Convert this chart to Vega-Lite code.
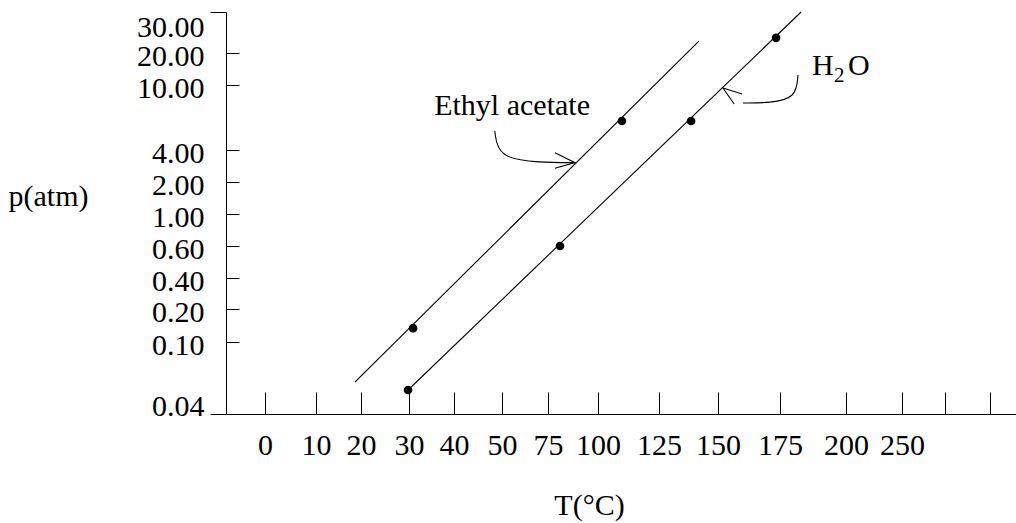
{
  "$schema": "https://vega.github.io/schema/vega-lite/v6.json",
  "width": 790,
  "height": 402,
  "autosize": {"type": "none"},
  "padding": {"left": 226, "top": 12, "right": 0, "bottom": 109},
  "background": "white",
  "config": {
    "view": {"stroke": null},
    "font": "Liberation Serif",
    "axis": {
      "grid": false,
      "domainColor": "black",
      "domainWidth": 1,
      "tickColor": "black",
      "tickWidth": 1,
      "labelColor": "black",
      "labelFont": "Liberation Serif",
      "labelFontSize": 30,
      "titleColor": "black",
      "titleFont": "Liberation Serif",
      "titleFontSize": 30,
      "titleFontWeight": "normal"
    }
  },
  "data": {
    "values": [
      {"kind": "line", "series": "Ethyl acetate", "ord": 1, "T": 18.7, "p": 0.0667},
      {"kind": "line", "series": "Ethyl acetate", "ord": 2, "T": 141.9, "p": 22.9},
      {"kind": "line", "series": "H2O", "ord": 1, "T": 29.8, "p": 0.06},
      {"kind": "line", "series": "H2O", "ord": 2, "T": 183, "p": 30},
      {"kind": "dot", "series": "Ethyl acetate", "T": 30.9, "p": 0.142},
      {"kind": "dot", "series": "Ethyl acetate", "T": 109.8, "p": 6.68},
      {"kind": "dot", "series": "H2O", "T": 29.8, "p": 0.06},
      {"kind": "dot", "series": "H2O", "T": 81, "p": 0.6},
      {"kind": "dot", "series": "H2O", "T": 138.6, "p": 6.68},
      {"kind": "dot", "series": "H2O", "T": 173.4, "p": 23.7},
      {"kind": "curve", "series": "ethyl-arrow", "ord": 1, "T": 48.5, "p": 5.75},
      {"kind": "curve", "series": "ethyl-arrow", "ord": 2, "T": 49.2, "p": 3.5},
      {"kind": "curve", "series": "ethyl-arrow", "ord": 3, "T": 70.5, "p": 3.21},
      {"kind": "curve", "series": "ethyl-arrow", "ord": 4, "T": 88.5, "p": 3.21},
      {"kind": "curve", "series": "h2o-arrow", "ord": 1, "T": 181.8, "p": 13.1},
      {"kind": "curve", "series": "h2o-arrow", "ord": 2, "T": 181.1, "p": 8.8},
      {"kind": "curve", "series": "h2o-arrow", "ord": 3, "T": 171.0, "p": 8.34},
      {"kind": "curve", "series": "h2o-arrow", "ord": 4, "T": 160.1, "p": 8.34},
      {"kind": "head", "series": "ethyl-head", "ord": 1, "T": 78.5, "p": 3.83},
      {"kind": "head", "series": "ethyl-head", "ord": 2, "T": 88.5, "p": 3.21},
      {"kind": "head", "series": "ethyl-head", "ord": 3, "T": 78.5, "p": 2.86},
      {"kind": "head", "series": "h2o-head", "ord": 1, "T": 159.7, "p": 9.17},
      {"kind": "head", "series": "h2o-head", "ord": 2, "T": 152.0, "p": 9.72},
      {"kind": "head", "series": "h2o-head", "ord": 3, "T": 156.5, "p": 8.25},
      {"kind": "label", "text": "Ethyl acetate", "T": 35.6, "p": 7.23},
      {"kind": "label", "text": "H", "T": 187.1, "p": 13.1},
      {"kind": "label", "text": "O", "T": 201.8, "p": 13.1},
      {"kind": "sub", "text": "2", "T": 195.5, "p": 10.94}
    ]
  },
  "encoding": {
    "x": {
      "field": "T",
      "type": "quantitative",
      "scale": {
        "domain": [-7.6, 0, 10, 20, 30, 40, 50, 75, 100, 125, 150, 175, 200, 250, 300, 350, 379],
        "range": [0, 39, 90, 135, 183, 228, 276, 322, 372, 433, 492, 554, 620, 676, 719, 764, 790],
        "nice": false,
        "zero": false
      },
      "axis": {
        "values": [0, 10, 20, 30, 40, 50, 75, 100, 125, 150, 175, 200, 250, 300, 350],
        "format": "d",
        "labelExpr": "datum.value > 250 ? '' : datum.label",
        "tickSize": -22,
        "labelPadding": 38,
        "labelFlush": false,
        "labelOverlap": false,
        "title": "T(°C)",
        "titleX": 363,
        "titleY": 100,
        "titleBaseline": "alphabetic",
        "titleAlign": "center"
      }
    },
    "y": {
      "field": "p",
      "type": "quantitative",
      "scale": {
        "domain": [0.04, 0.1, 0.2, 0.4, 0.6, 1, 2, 4, 10, 20, 30],
        "range": [402, 330, 297, 266, 234, 202, 170, 138, 73, 41, 0],
        "nice": false,
        "zero": false
      },
      "axis": {
        "values": [0.04, 0.1, 0.2, 0.4, 0.6, 1, 2, 4, 10, 20, 30],
        "format": ".2f",
        "labelFlush": true,
        "labelOverlap": false,
        "labelOffset": {"condition": [{"test": "datum.value > 25", "value": 0}, {"test": "datum.value < 0.05", "value": 7}], "value": 3},
        "tickSize": {"condition": {"test": "datum.value > 25 || datum.value < 0.05", "value": 16}, "value": -13},
        "labelPadding": {"condition": {"test": "datum.value > 25 || datum.value < 0.05", "value": 6}, "value": 35},
        "title": "p(atm)",
        "titleAngle": 0,
        "titleAlign": "left",
        "titleBaseline": "alphabetic",
        "titleX": -218,
        "titleY": 193
      }
    }
  },
  "layer": [
    {
      "transform": [{"filter": "datum.kind == 'line'"}],
      "mark": {"type": "line", "color": "black", "strokeWidth": 1.1},
      "encoding": {"detail": {"field": "series"}, "order": {"field": "ord"}}
    },
    {
      "transform": [{"filter": "datum.kind == 'curve'"}],
      "mark": {"type": "line", "color": "black", "strokeWidth": 1.1, "interpolate": "basis"},
      "encoding": {"detail": {"field": "series"}, "order": {"field": "ord"}}
    },
    {
      "transform": [{"filter": "datum.kind == 'head'"}],
      "mark": {"type": "line", "color": "black", "strokeWidth": 1.1},
      "encoding": {"detail": {"field": "series"}, "order": {"field": "ord"}}
    },
    {
      "transform": [{"filter": "datum.kind == 'dot'"}],
      "mark": {"type": "circle", "color": "black", "opacity": 1, "size": 75},
      "encoding": {}
    },
    {
      "transform": [{"filter": "datum.kind == 'label'"}],
      "mark": {"type": "text", "align": "left", "baseline": "alphabetic", "fontSize": 30, "font": "Liberation Serif", "color": "black"},
      "encoding": {"text": {"field": "text"}}
    },
    {
      "transform": [{"filter": "datum.kind == 'sub'"}],
      "mark": {"type": "text", "align": "left", "baseline": "alphabetic", "fontSize": 21, "font": "Liberation Serif", "color": "black"},
      "encoding": {"text": {"field": "text"}}
    },
    {
      "data": {"values": [{}]},
      "mark": {"type": "rule", "color": "black", "strokeWidth": 1},
      "encoding": {
        "x": {"datum": -7.6, "type": "quantitative"},
        "x2": {"datum": 379},
        "y": {"datum": 30, "type": "quantitative"}
      }
    }
  ]
}
